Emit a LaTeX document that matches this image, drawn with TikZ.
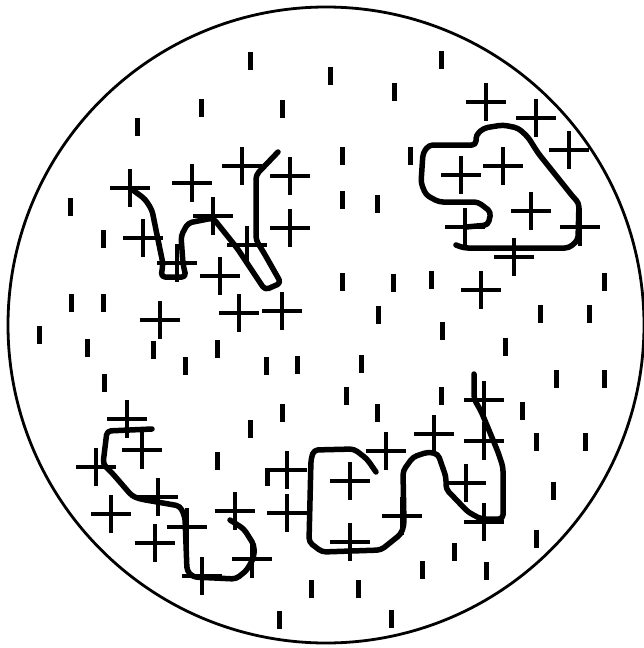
\documentclass[tikz,border=0pt]{standalone}
\usepackage{tikz}

\tikzset{
  dashbar/.style={line width=5pt},
  crossarm/.style={line width=3.2pt},
  trail/.style={line width=5.5pt, rounded corners=4pt, line join=round, line cap=round},
  rim/.style={line width=2.8pt}
}

\begin{document}
\begin{tikzpicture}[x=1pt, y=-1pt]
    \useasboundingbox (0,0) rectangle (643,648);
    \fill[white] (0,0) rectangle (643,648);

    % outer circle
    \draw[rim] (326,325) circle (318);

    % short vertical bars
    \foreach \x/\y in {201/108, 137/127, 70/207, 250/61, 330/76, 394/92, 282/109,
        342/156, 410/156, 342/200, 377/204, 441/60,
        342/282, 393/283, 431/280, 604/282, 378/315, 540/314, 589/314,
        442/331, 505/347, 556/379, 604/379, 441/396, 522/411,
        103/239, 71/303, 103/303, 39/335, 87/348, 153/350, 185/366, 104/383,
        217/349, 266/366, 297/365, 361/364, 346/396, 282/413, 377/413, 250/429,
        217/461, 267/477, 311/589, 358/589, 279/620, 391/619, 422/570,
        486/571, 454/552, 536/539, 553/491, 536/442, 585/442}
        \draw[dashbar] (\x,\y-9) -- (\x,\y+9);

    % crosses
    \foreach \x/\y in {130/188, 192/183, 242/166, 290/176, 143/238, 213/216,
        290/228, 247/245, 177/263, 220/276, 239/313, 282/311, 160/320,
        486/102, 536/118, 569/150, 461/175, 503/166, 531/211, 465/227,
        580/227, 514/257, 481/290,
        127/419, 142/450, 96/467, 158/497, 111/514, 187/527, 155/543,
        202/576, 235/511, 252/559, 287/470, 287/513,
        350/481, 350/542, 386/451, 434/434, 484/400, 484/441, 466/483,
        484/522, 402/516}
        \draw[crossarm] (\x-20,\y) -- (\x+20,\y) (\x,\y-19) -- (\x,\y+19);

    % top left trail
    \draw[trail] (130,188) -- (145,199) -- (152,210) -- (155,225) -- (163,264)
        -- (161,277) -- (186,277) -- (183,264) -- (181,236) -- (188,223)
        -- (213,218) -- (237,248) -- (265,290) -- (281,283) -- (264,253)
        -- (256,240) -- (256,175) -- (278,152);

    % top right trail
    \draw[trail] (466,227) -- (488,225) -- (491,212) -- (478,202) -- (439,202)
        -- (426,195) -- (421,183) -- (423,153) -- (429,145) -- (476,145)
        -- (476,135) -- (484,128) -- (503,125) -- (518,128) -- (528,137)
        -- (538,153) -- (554,173) -- (574,198) -- (579,203) -- (578,240)
        -- (569,248) -- (464,248) -- (456,245);

    % bottom left trail
    \draw[trail] (152,429) -- (107,431) -- (103,464) -- (113,474) -- (132,496)
        -- (140,499) -- (180,506) -- (185,517) -- (187,571) -- (193,577)
        -- (236,579) -- (247,570) -- (254,557) -- (254,545) -- (244,529)
        -- (230,520);

    % bottom right trail
    \draw[trail] (376,472) -- (367,459) -- (354,449) -- (314,450) -- (311,459)
        -- (309,542) -- (322,552) -- (381,550) -- (401,534) -- (404,525)
        -- (403,471) -- (413,457) -- (428,452) -- (438,454) -- (446,477)
        -- (446,489) -- (468,512) -- (481,519) -- (503,519) -- (503,467)
        -- (498,452) -- (481,411) -- (474,399) -- (474,374);
\end{tikzpicture}
\end{document}
